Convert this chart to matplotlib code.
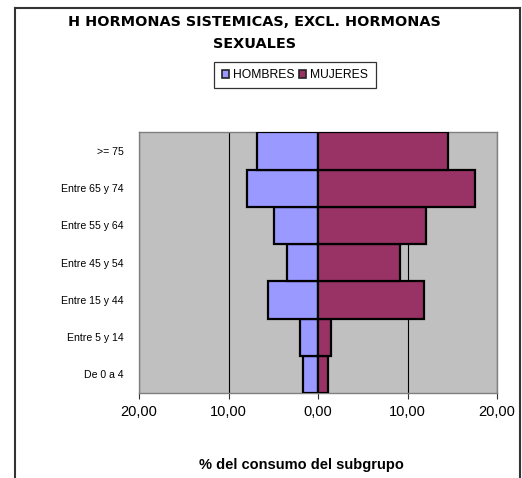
import matplotlib
matplotlib.use("Agg")
import matplotlib.pyplot as plt
import numpy as np
from matplotlib.patches import Patch

categories = ["De 0 a 4", "Entre 5 y 14", "Entre 15 y 44", "Entre 45 y 54",
              "Entre 55 y 64", "Entre 65 y 74", ">= 75"]
hombres = [1.64, 2.05, 5.63, 3.43, 4.96, 7.95, 6.79]
mujeres = [1.12, 1.49, 11.83, 9.14, 12.05, 17.5, 14.55]
xticks = [-20, -10, 0, 10, 20]
xticklabels = ["20,00", "10,00", "0,00", "10,00", "20,00"]

plt.rcParams['font.family'] = ['Liberation Sans', 'DejaVu Sans']

W, H = 522, 478
fig = plt.figure(figsize=(W / 100, H / 100), dpi=100)

# outer border (top, left, right)
for xs, ys in [([14.5, 14.5], [H, 7.7]), ([519.5, 519.5], [H, 7.7]), ([14.5, 519.5], [7.7, 7.7])]:
    fig.add_artist(plt.Line2D([v / W for v in xs], [1 - v / H for v in ys], color='#333333',
                              lw=1.5, transform=fig.transFigure))

left, right, top, bottom = 139, 497, 132.3, 393
ax = fig.add_axes([left / W, 1 - bottom / H, (right - left) / W, (bottom - top) / H])
ax.set_facecolor('#C0C0C0')

y = np.arange(len(categories))
ax.barh(y, -np.array(hombres), height=1.0, color='#9999FF', edgecolor='black', lw=1.6,
        label='HOMBRES', zorder=3)
ax.barh(y, mujeres, height=1.0, color='#993366', edgecolor='black', lw=1.6,
        label='MUJERES', zorder=3)

ax.set_xlim(-20, 20)
ax.set_ylim(-0.5, len(categories) - 0.5)
ax.set_xticks(xticks)
ax.set_xticklabels(xticklabels, fontsize=10.5)
ax.tick_params(axis='x', length=4, width=0.8, color='#333333', pad=5)
ax.set_yticks(y)
ax.set_yticklabels(categories, fontsize=7.6)
ax.tick_params(axis='y', length=0, pad=11)
ax.grid(axis='x', color='black', lw=0.8, zorder=1)

for s in ax.spines.values():
    s.set_color('#808080')
    s.set_linewidth(1.0)

sec = ax.secondary_yaxis(0.5)
sec.set_yticks(y)
sec.set_yticklabels([''] * len(y))
sec.tick_params(axis='y', length=2.5, width=0.8, color='black')
sec.spines['left'].set_visible(False)

# title
tfont = dict(ha='center', va='center', fontsize=10.4, fontweight='bold', family=['DejaVu Sans'])
fig.text(254 / W, 1 - 21.7 / H, "H HORMONAS SISTEMICAS, EXCL. HORMONAS", **tfont)
fig.text(254 / W, 1 - 44 / H, "SEXUALES", **tfont)

# legend
handles = [Patch(facecolor='#9999FF', edgecolor='#222222', lw=1.2, label='HOMBRES'),
           Patch(facecolor='#993366', edgecolor='#222222', lw=1.2, label='MUJERES')]
leg = fig.legend(handles=handles, loc='center', bbox_to_anchor=(295 / W, 1 - 75 / H), ncol=2,
                 fontsize=8.7, frameon=True, fancybox=False, edgecolor='black',
                 handlelength=0.6, handleheight=0.6, handletextpad=0.35, columnspacing=0.35,
                 borderpad=0.6, borderaxespad=0)
leg.get_frame().set_linewidth(0.9)

# x label
fig.text(301 / W, 1 - 465 / H, "% del consumo del subgrupo", ha='center', va='center',
         fontsize=10.5, fontweight='bold')

fig.savefig('out.png', dpi=100)
